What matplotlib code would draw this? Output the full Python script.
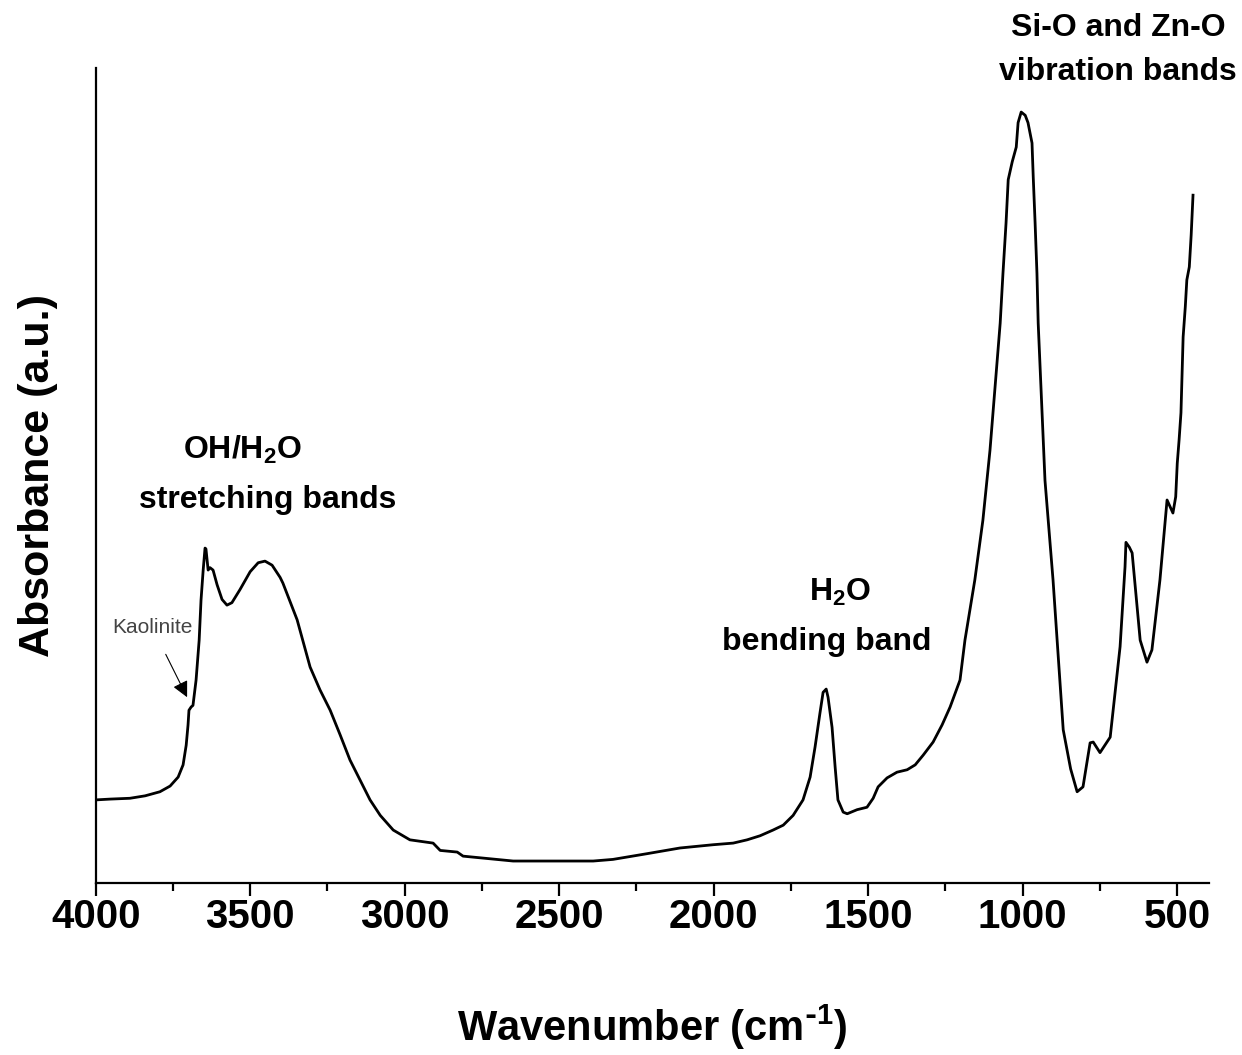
import matplotlib
matplotlib.use("Agg")
import matplotlib.pyplot as plt

plt.rcParams["font.family"] = ["Liberation Sans", "DejaVu Sans"]
plt.rcParams["font.weight"] = "bold"
plt.rcParams["mathtext.default"] = "regular"

# FTIR spectrum (wavenumber in cm-1, absorbance in a.u.)
wavenumber = [
    4000, 3953, 3889, 3840, 3792, 3759, 3733, 3717, 3707, 3701, 3698, 3691, 3685,
    3675, 3665, 3659, 3652, 3646, 3643, 3636, 3630, 3620, 3607, 3591, 3575, 3559,
    3533, 3500, 3474, 3452, 3429, 3403, 3394, 3348, 3306, 3274, 3241, 3209, 3177,
    3144, 3112, 3079, 3037, 2983, 2908, 2885, 2830, 2811, 2756, 2649, 2520, 2390,
    2326, 2216, 2109, 2002, 1937, 1892, 1850, 1808, 1775, 1743, 1711, 1688, 1672,
    1656, 1646, 1636, 1630, 1617, 1607, 1598, 1581, 1568, 1536, 1504, 1484, 1468,
    1439, 1407, 1374, 1348, 1322, 1290, 1261, 1235, 1203, 1187, 1155, 1129, 1106,
    1090, 1073, 1064, 1054, 1047, 1034, 1021, 1015, 1005, 992, 983, 970, 966,
    960, 954, 950, 941, 928, 902, 869, 845, 824, 805, 782, 772, 750, 717,
    685, 669, 666, 655, 646, 620, 598, 582, 556, 533, 514, 505, 500,
    494, 488, 485, 481, 474, 469, 461, 455, 449,
]
absorbance = [
    0.102, 0.103, 0.104, 0.107, 0.112, 0.119, 0.130, 0.145, 0.169, 0.194, 0.212, 0.216, 0.218,
    0.249, 0.298, 0.347, 0.384, 0.411, 0.410, 0.384, 0.387, 0.384, 0.366, 0.348, 0.341, 0.344,
    0.360, 0.382, 0.393, 0.395, 0.390, 0.375, 0.368, 0.323, 0.265, 0.237, 0.212, 0.182, 0.151,
    0.126, 0.102, 0.083, 0.065, 0.053, 0.049, 0.040, 0.038, 0.033, 0.031, 0.027, 0.027, 0.027,
    0.029, 0.036, 0.043, 0.047, 0.049, 0.053, 0.058, 0.065, 0.071, 0.083, 0.102, 0.130, 0.167,
    0.209, 0.234, 0.238, 0.228, 0.191, 0.142, 0.102, 0.087, 0.085, 0.090, 0.093, 0.104, 0.118,
    0.129, 0.136, 0.139, 0.145, 0.157, 0.173, 0.194, 0.216, 0.249, 0.298, 0.372, 0.445, 0.531,
    0.607, 0.687, 0.748, 0.810, 0.863, 0.885, 0.903, 0.933, 0.946, 0.942, 0.933, 0.908, 0.866,
    0.810, 0.748, 0.687, 0.607, 0.494, 0.372, 0.188, 0.140, 0.112, 0.118, 0.172, 0.173, 0.160, 0.179,
    0.290, 0.388, 0.418, 0.412, 0.405, 0.298, 0.271, 0.286, 0.372, 0.470, 0.454, 0.474, 0.515,
    0.544, 0.577, 0.617, 0.670, 0.707, 0.740, 0.756, 0.795, 0.844,
]

xticks = [4000, 3500, 3000, 2500, 2000, 1500, 1000, 500]

fig = plt.figure(figsize=(12.42, 10.55), dpi=100)
ax = fig.add_axes([0.077, 0.163, 0.8965, 0.7725])

ax.plot(wavenumber, absorbance, color="black", linewidth=2.0)

ax.set_xlim(4000, 397)
ax.set_ylim(0, 1)
ax.set_xticks(xticks)
ax.set_xticks(range(3750, 400, -500), minor=True)
ax.set_yticks([])
ax.spines["top"].set_visible(False)
ax.spines["right"].set_visible(False)
for s in ("left", "bottom"):
    ax.spines[s].set_linewidth(1.6)
ax.tick_params(axis="x", which="major", direction="out", length=9, width=1.6,
               labelsize=29, pad=2)
ax.tick_params(axis="x", which="minor", direction="out", length=6, width=1.6)

ax.set_xlabel("Wavenumber (cm$^{\\text{-}1}$)", fontsize=30, fontweight="bold", labelpad=48)
ax.set_ylabel("Absorbance (a.u.)", fontsize=31, fontweight="bold", labelpad=27)

lbl = dict(fontsize=23, fontweight="bold", ha="center", va="center")
ax.text(691, 1.049, "Si-O and Zn-O", clip_on=False, **lbl)
ax.text(691, 0.995, "vibration bands", clip_on=False, **lbl)
ax.text(3526, 0.531, "OH/H$_2$O", **lbl)
ax.text(3442, 0.470, "stretching bands", **lbl)
ax.text(1591, 0.356, "H$_2$O", **lbl)
ax.text(1636, 0.296, "bending band", **lbl)

ax.annotate("Kaolinite", xy=(3704, 0.228), xytext=(3817, 0.314),
            fontsize=15, fontweight="normal", color="#444444",
            ha="center", va="center",
            arrowprops=dict(arrowstyle="-|>", color="black", lw=0.8,
                            mutation_scale=24, shrinkA=12, shrinkB=0))

fig.savefig("out.png", dpi=100)
